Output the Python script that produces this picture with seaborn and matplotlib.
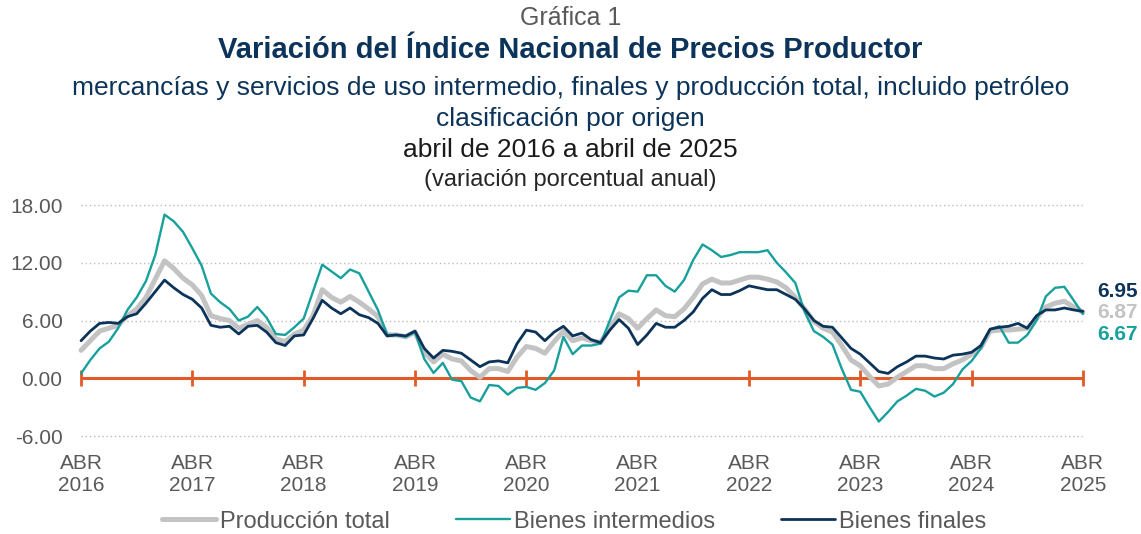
import pandas as pd
import numpy as np
import seaborn as sns
import matplotlib.pyplot as plt

# Monthly annual variation (%), April 2016 - April 2025
produccion_total = [
    2.9, 3.9, 4.9, 5.2, 5.5, 6.5, 7.2, 8.4, 10.3, 12.2, 11.4, 10.4,
    9.7, 8.6, 6.5, 6.2, 6.0, 5.2, 5.6, 6.0, 5.3, 4.1, 3.8, 4.6,
    5.0, 6.5, 9.2, 8.4, 7.9, 8.5, 7.9, 7.2, 6.4, 4.5, 4.5, 4.3,
    4.8, 2.7, 1.7, 2.5, 2.0, 1.8, 0.8, 0.1, 1.0, 1.0, 0.7, 2.2,
    3.3, 3.1, 2.6, 3.8, 4.9, 3.9, 4.2, 3.9, 3.7, 5.2, 6.7, 6.2,
    5.2, 6.2, 7.1, 6.5, 6.4, 7.2, 8.4, 9.8, 10.3, 9.9, 9.9, 10.2,
    10.5, 10.5, 10.3, 10.0, 9.4, 8.4, 7.2, 5.9, 5.2, 4.8, 3.4, 1.9,
    1.3, 0.2, -0.8, -0.6, 0.1, 0.7, 1.3, 1.3, 1.0, 1.0, 1.5, 1.9,
    2.5, 3.2, 4.9, 5.0, 5.0, 5.1, 5.2, 6.2, 7.4, 7.8, 8.0, 7.4,
    6.87,
]
bienes_intermedios = [
    0.5, 1.9, 3.1, 3.8, 5.2, 7.1, 8.4, 10.1, 12.8, 17.0, 16.3, 15.2,
    13.5, 11.7, 8.8, 7.9, 7.2, 6.0, 6.4, 7.4, 6.3, 4.6, 4.5, 5.3,
    6.2, 9.0, 11.8, 11.1, 10.4, 11.3, 10.9, 9.0, 7.1, 4.5, 4.5, 4.3,
    4.8, 2.0, 0.55, 1.6, -0.15, -0.3, -2.0, -2.4, -0.7, -0.8, -1.7, -1.0,
    -0.9, -1.2, -0.5, 0.8, 4.3, 2.5, 3.4, 3.4, 3.6, 6.0, 8.4, 9.1,
    9.0, 10.7, 10.7, 9.6, 9.0, 10.2, 12.3, 13.9, 13.3, 12.6, 12.8, 13.1,
    13.1, 13.1, 13.3, 12.0, 11.0, 9.9, 6.9, 4.9, 4.3, 3.5, 1.0, -1.2,
    -1.4, -3.0, -4.5, -3.5, -2.4, -1.8, -1.1, -1.3, -1.9, -1.5, -0.6, 0.9,
    1.8, 3.1, 5.1, 5.4, 3.7, 3.7, 4.5, 6.0, 8.5, 9.4, 9.5, 8.1,
    6.67,
]
bienes_finales = [
    3.9, 4.9, 5.7, 5.8, 5.7, 6.4, 6.7, 7.8, 9.0, 10.2, 9.4, 8.7,
    8.2, 7.3, 5.5, 5.3, 5.4, 4.6, 5.4, 5.5, 4.8, 3.7, 3.4, 4.4,
    4.5, 6.2, 8.1, 7.3, 6.7, 7.3, 6.6, 6.3, 5.7, 4.4, 4.5, 4.4,
    4.9, 3.1, 2.1, 2.9, 2.8, 2.6, 1.9, 1.2, 1.7, 1.8, 1.6, 3.6,
    5.0, 4.8, 3.9, 4.8, 5.4, 4.4, 4.7, 4.0, 3.7, 5.0, 6.1, 5.2,
    3.5, 4.5, 5.7, 5.3, 5.3, 6.0, 6.9, 8.3, 9.2, 8.7, 8.7, 9.1,
    9.6, 9.4, 9.2, 9.2, 8.7, 8.2, 7.2, 6.0, 5.4, 5.3, 4.2, 3.1,
    2.5, 1.6, 0.7, 0.5, 1.2, 1.7, 2.3, 2.3, 2.1, 2.0, 2.4, 2.5,
    2.7, 3.4, 5.1, 5.3, 5.4, 5.7, 5.2, 6.5, 7.1, 7.1, 7.3, 7.1,
    6.95,
]
years = [2016, 2017, 2018, 2019, 2020, 2021, 2022, 2023, 2024, 2025]
year_labels = [f"ABR\n{y}" for y in years]
y_ticks = [-6, 0, 6, 12, 18]

series_names = ["Producción total", "Bienes intermedios", "Bienes finales"]
colors = {"Producción total": "#c3c3c3",
          "Bienes intermedios": "#17a09c",
          "Bienes finales": "#0c3359"}
widths = {"Producción total": 3.6, "Bienes intermedios": 1.7, "Bienes finales": 2.0}

mes = np.arange(len(produccion_total))
df = pd.DataFrame({"mes": mes,
                   "Producción total": produccion_total,
                   "Bienes intermedios": bienes_intermedios,
                   "Bienes finales": bienes_finales})
long_df = df.melt(id_vars="mes", var_name="serie", value_name="valor")

sns.set_style("white")
plt.rcParams["font.family"] = ["Liberation Sans", "DejaVu Sans"]

fig = plt.figure(figsize=(11.41, 5.34), dpi=100)
ax = fig.add_axes([0.06696, 0.1781, 0.8862, 0.4434])

last = mes[-1]
# gridlines and zero baseline
ax.hlines([t for t in y_ticks if t != 0], 0, last, colors="#bdbdbd",
          linestyles=(0, (1, 2)), linewidth=1, zorder=1)
ax.hlines(0, 0, last, colors="#e25a27", linewidth=2.2, zorder=2)
year_pos = [12 * k for k in range(len(years))]
ax.plot(year_pos, [0] * len(year_pos), linestyle="none", marker="|",
        markersize=11, markeredgewidth=2, color="#e25a27", clip_on=False, zorder=2)

for name in series_names:
    sub = long_df[long_df["serie"] == name]
    sns.lineplot(data=sub, x="mes", y="valor", ax=ax, color=colors[name],
                 linewidth=widths[name], label=name, zorder=3)

ax.set_xlim(-0.5, last + 0.5)
ax.set_ylim(-6.3, 18.3)
ax.set_xticks(year_pos)
ax.set_xticklabels(year_labels)
ax.set_yticks(y_ticks)
ax.set_yticklabels([f"{t:.2f}" for t in y_ticks])
ax.tick_params(axis="both", length=0, labelsize=15, labelcolor="#595959")
ax.tick_params(axis="x", pad=11)
ax.tick_params(axis="y", pad=10)
ax.set_xlabel("")
ax.set_ylabel("")
for s in ax.spines.values():
    s.set_visible(False)

# end labels
offsets = {"Bienes finales": 14, "Producción total": 0, "Bienes intermedios": -15}
for name in series_names:
    v = df[name].iloc[-1]
    ax.annotate(f"{v:.2f}", xy=(last, v), xytext=(10, offsets[name]),
                textcoords="offset points", ha="left", va="center",
                fontsize=15, fontweight="bold", color=colors[name])

ax.get_legend().remove()
handles, labels = ax.get_legend_handles_labels()
fig.legend(handles, labels, loc="center", bbox_to_anchor=(0.503, 0.023), ncol=3,
           frameon=False, fontsize=17, handlelength=2.3, handletextpad=0.15,
           columnspacing=2.8, labelcolor="#595959")

# titles
fig.text(0.5, 0.966, "Gráfica 1", ha="center", va="center", fontsize=18, color="#595959")
fig.text(0.5, 0.906, "Variación del Índice Nacional de Precios Productor", ha="center",
         va="center", fontsize=21, fontweight="bold", color="#0c3359")
fig.text(0.5, 0.835, "mercancías y servicios de uso intermedio, finales y producción total, incluido petróleo",
         ha="center", va="center", fontsize=19, color="#0c3359")
fig.text(0.5, 0.777, "clasificación por origen", ha="center", va="center",
         fontsize=19, color="#0c3359")
fig.text(0.5, 0.719, "abril de 2016 a abril de 2025", ha="center", va="center",
         fontsize=19, color="#1a1a1a")
fig.text(0.5, 0.663, "(variación porcentual anual)", ha="center", va="center",
         fontsize=17, color="#262626")

fig.savefig("out.png", dpi=100)
